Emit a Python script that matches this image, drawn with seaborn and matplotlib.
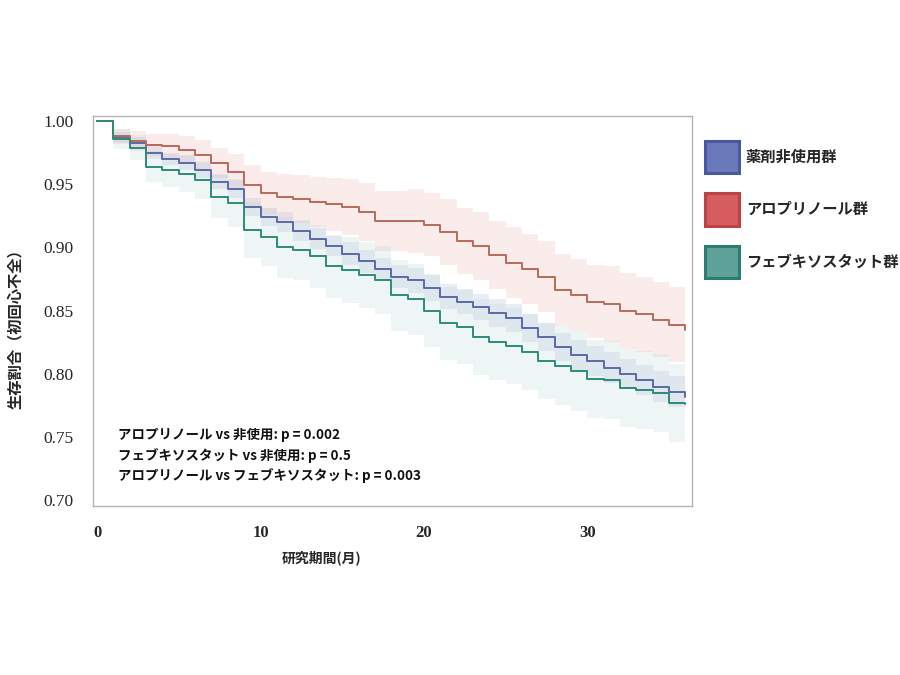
import numpy as np
import pandas as pd
import seaborn as sns
import matplotlib
matplotlib.use("Agg")
import matplotlib.pyplot as plt
from matplotlib.patches import Patch

# ---- data ----
months = list(range(0, 37))
groups = ["薬剤非使用群", "アロプリノール群", "フェブキソスタット群"]

surv_none = [1.000, 0.987, 0.983, 0.975, 0.970, 0.967, 0.961, 0.952, 0.946, 0.932,
             0.924, 0.920, 0.913, 0.907, 0.901, 0.895, 0.889, 0.883, 0.877, 0.874,
             0.868, 0.861, 0.857, 0.853, 0.848, 0.844, 0.836, 0.829, 0.821, 0.815,
             0.810, 0.805, 0.800, 0.795, 0.790, 0.786, 0.782]
surv_allo = [1.000, 0.988, 0.984, 0.981, 0.980, 0.977, 0.973, 0.967, 0.960, 0.949,
             0.943, 0.940, 0.938, 0.936, 0.934, 0.932, 0.928, 0.921, 0.921, 0.921,
             0.918, 0.912, 0.905, 0.901, 0.894, 0.888, 0.883, 0.877, 0.866, 0.862,
             0.857, 0.855, 0.850, 0.847, 0.843, 0.839, 0.835]
surv_febu = [1.000, 0.986, 0.979, 0.964, 0.961, 0.958, 0.953, 0.940, 0.935, 0.914,
             0.908, 0.900, 0.898, 0.893, 0.885, 0.882, 0.878, 0.874, 0.862, 0.859,
             0.850, 0.840, 0.837, 0.829, 0.825, 0.822, 0.817, 0.810, 0.806, 0.802,
             0.796, 0.795, 0.789, 0.787, 0.785, 0.777, 0.776]

# half-width of the confidence band at each month
hw_none = [0.000, 0.004, 0.004, 0.005, 0.005, 0.006, 0.006, 0.006, 0.007, 0.007,
           0.007, 0.008, 0.008, 0.008, 0.008, 0.009, 0.009, 0.009, 0.009, 0.010,
           0.010, 0.010, 0.010, 0.010, 0.011, 0.011, 0.011, 0.011, 0.011, 0.012,
           0.012, 0.012, 0.012, 0.012, 0.012, 0.012, 0.012]
hw_allo = [0.000, 0.006, 0.008, 0.009, 0.010, 0.011, 0.012, 0.012, 0.014, 0.016,
           0.017, 0.018, 0.019, 0.020, 0.021, 0.022, 0.023, 0.024, 0.024, 0.025,
           0.025, 0.026, 0.026, 0.027, 0.027, 0.028, 0.028, 0.028, 0.029, 0.029,
           0.029, 0.030, 0.030, 0.030, 0.030, 0.030, 0.030]
hw_febu = [0.000, 0.008, 0.010, 0.012, 0.013, 0.014, 0.015, 0.017, 0.019, 0.022,
           0.023, 0.024, 0.024, 0.025, 0.025, 0.026, 0.026, 0.027, 0.028, 0.028,
           0.029, 0.029, 0.029, 0.030, 0.030, 0.030, 0.030, 0.030, 0.031, 0.031,
           0.031, 0.031, 0.031, 0.031, 0.031, 0.031, 0.031]

pvalue_texts = ["アロプリノール vs 非使用: p = 0.002",
                "フェブキソスタット vs 非使用: p = 0.5",
                "アロプリノール vs フェブキソスタット: p = 0.003"]

line_colors = {"薬剤非使用群": "#5b6aa6", "アロプリノール群": "#b86a5c", "フェブキソスタット群": "#2f8a78"}
band_colors = {"薬剤非使用群": "#9aa6d6", "アロプリノール群": "#efa2a2", "フェブキソスタット群": "#a9d2cc"}
legend_face = {"薬剤非使用群": "#6b78b9", "アロプリノール群": "#d75c5e", "フェブキソスタット群": "#5fa29a"}
legend_edge = {"薬剤非使用群": "#4a58a0", "アロプリノール群": "#b94446", "フェブキソスタット群": "#2b7d70"}

# ---- build table ----
surv = {"薬剤非使用群": surv_none, "アロプリノール群": surv_allo, "フェブキソスタット群": surv_febu}
hws = {"薬剤非使用群": hw_none, "アロプリノール群": hw_allo, "フェブキソスタット群": hw_febu}
rows = []
for g in groups:
    for t, s in zip(months, surv[g]):
        rows.append({"month": t, "surv": s, "group": g})
df = pd.DataFrame(rows)

sns.set_theme(style="white")
plt.rcParams['font.family'] = ['Noto Sans CJK JP', 'DejaVu Sans']

fig = plt.figure(figsize=(9, 6.75), dpi=100)
ax = fig.add_axes([0.1033, 0.2504, 0.6656, 0.5778])

# confidence bands
for g in groups:
    s = np.array(surv[g]); h = np.array(hws[g])
    ax.fill_between(months, s - h, s + h, step="post", color=band_colors[g],
                    alpha=0.2, linewidth=0)

sns.lineplot(data=df, x="month", y="surv", hue="group", hue_order=groups,
             palette=line_colors, drawstyle="steps-post", errorbar=None,
             linewidth=1.4, ax=ax, legend=False)

ax.set_xlim(-0.25, 36.4)
ax.set_ylim(0.6955, 1.004)
ax.set_xticks([0, 10, 20, 30])
ax.set_yticks([0.70, 0.75, 0.80, 0.85, 0.90, 0.95, 1.00])
ax.set_yticklabels([f"{v:.2f}" for v in [0.70, 0.75, 0.80, 0.85, 0.90, 0.95, 1.00]],
                   family="Liberation Serif", fontsize=12.5)
ax.set_xticklabels(["0", "10", "20", "30"], family="Liberation Serif",
                   fontsize=12, fontweight="bold")
ax.tick_params(axis="both", direction="out", length=4, width=0.8, color="#aaaaaa")
ax.tick_params(axis="y", pad=10)
ax.tick_params(axis="x", pad=10)
for sp in ax.spines.values():
    sp.set_color("#b5b5b5")
    sp.set_linewidth(1.0)

ax.set_xlabel("研究期間(月)", fontsize=10, fontweight="bold")
ax.xaxis.set_label_coords(0.382, -0.113)
ax.set_ylabel("生存割合（初回心不全）", fontsize=11, fontweight="bold")
ax.yaxis.set_label_coords(-0.117, 0.464)

for i, txt in enumerate(pvalue_texts):
    ax.text(0.042, 0.182 - i * 0.0515, txt, transform=ax.transAxes,
            fontsize=9.7, fontweight="bold", va="center", ha="left", color="#111111")

handles = [Patch(facecolor=legend_face[g], edgecolor=legend_edge[g], linewidth=2.2) for g in groups]
leg = ax.legend(handles, groups, loc="upper left", bbox_to_anchor=(1.012, 0.952),
                frameon=False, fontsize=11, handlelength=2.2, handleheight=2.9,
                labelspacing=1.3, handletextpad=0.45, borderaxespad=0)
for t in leg.get_texts():
    t.set_fontweight("bold")

fig.savefig("out.png", dpi=100)
